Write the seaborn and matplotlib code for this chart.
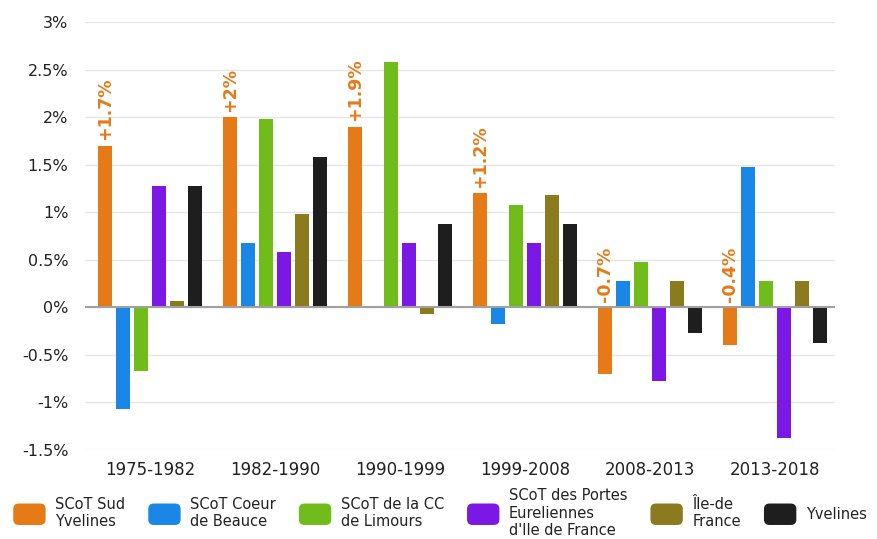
import matplotlib
matplotlib.use("Agg")
import matplotlib.pyplot as plt
import matplotlib.patches as mpatches
from matplotlib.legend_handler import HandlerPatch
import seaborn as sns
import pandas as pd

periods = ["1975-1982", "1982-1990", "1990-1999", "1999-2008", "2008-2013", "2013-2018"]
series_names = ["SCoT Sud\nYvelines", "SCoT Coeur\nde Beauce", "SCoT de la CC\nde Limours",
                "SCoT des Portes\nEureliennes\nd'Ile de France", "Île-de\nFrance", "Yvelines"]
sud_yvelines = [1.7, 2.0, 1.9, 1.2, -0.7, -0.4]
coeur_beauce = [-1.07, 0.68, 0.0, -0.17, 0.28, 1.48]
cc_limours = [-0.67, 1.98, 2.58, 1.08, 0.48, 0.28]
portes_eureliennes = [1.28, 0.58, 0.68, 0.68, -0.77, -1.37]
ile_de_france = [0.07, 0.98, -0.07, 1.18, 0.28, 0.28]
yvelines = [1.28, 1.58, 0.88, 0.88, -0.27, -0.37]
labels_sud = ["+1.7%", "+2%", "+1.9%", "+1.2%", "-0.7%", "-0.4%"]
colors = ["#E57A17", "#1A86E6", "#6FBC1A", "#7B18E6", "#8B7B1E", "#1E1E1E"]

all_series = [sud_yvelines, coeur_beauce, cc_limours, portes_eureliennes, ile_de_france, yvelines]
rows = []
for name, vals in zip(series_names, all_series):
    for p, v in zip(periods, vals):
        rows.append({"period": p, "series": name, "value": v})
df = pd.DataFrame(rows)

sns.set_style("white")
plt.rcParams["font.family"] = ["DejaVu Sans"]

fig = plt.figure(figsize=(8.77, 5.39), dpi=100)
ax = fig.add_axes([85/877, 1-450/539, 750/877, 428/539])

sns.barplot(data=df, x="period", y="value", hue="series", hue_order=series_names,
            palette=colors, order=periods, width=0.86, gap=0.2, ax=ax,
            legend=False, saturation=1, linewidth=0)

ax.set_ylim(-1.5, 3.0)
ax.set_xlim(-0.52, 5.48)
yt = [-1.5, -1, -0.5, 0, 0.5, 1, 1.5, 2, 2.5, 3]
ax.set_yticks(yt)
ax.set_yticklabels([("%g" % t) + "%" for t in yt], fontsize=11.5, color="#222222")
ax.tick_params(axis="x", labelsize=12, colors="#222222", length=0, pad=8)
ax.tick_params(axis="y", length=0, pad=12)
for t in yt:
    ax.axhline(t, color="#E6E6E6", lw=1, zorder=0)
ax.axhline(0, color="#A0A0A0", lw=1.5, zorder=3)
for s in ax.spines.values():
    s.set_visible(False)
ax.set_xlabel("")
ax.set_ylabel("")

# annotations on orange bars
orange_bars = ax.containers[0]
for bar, lab, v in zip(orange_bars, labels_sud, sud_yvelines):
    x = bar.get_x() + bar.get_width() / 2
    ybase = v if v > 0 else 0
    ax.annotate(lab, (x, ybase), xytext=(0, 4), textcoords="offset points",
                rotation=90, ha="center", va="bottom", color="#E57A17",
                fontsize=12.5, fontweight="semibold")


class RoundHandler(HandlerPatch):
    def create_artists(self, legend, orig_handle, xdescent, ydescent, width, height, fontsize, trans):
        p = mpatches.FancyBboxPatch((-xdescent + 2, -ydescent - 2), width - 4, height + 4,
                                    boxstyle="round,pad=0,rounding_size=4",
                                    facecolor=orig_handle.get_facecolor(), edgecolor="none",
                                    transform=trans)
        return [p]

handles = [mpatches.Patch(facecolor=c, label=n) for c, n in zip(colors, series_names)]
fig.legend(handles=handles, loc="center", bbox_to_anchor=(0.5, 0.048), ncol=6,
           frameon=False, fontsize=10.5, handlelength=2.6, handleheight=1.3,
           columnspacing=1.4, handletextpad=0.45, labelcolor="#222222",
           handler_map={mpatches.Patch: RoundHandler()})

fig.savefig("out.png", dpi=100)
